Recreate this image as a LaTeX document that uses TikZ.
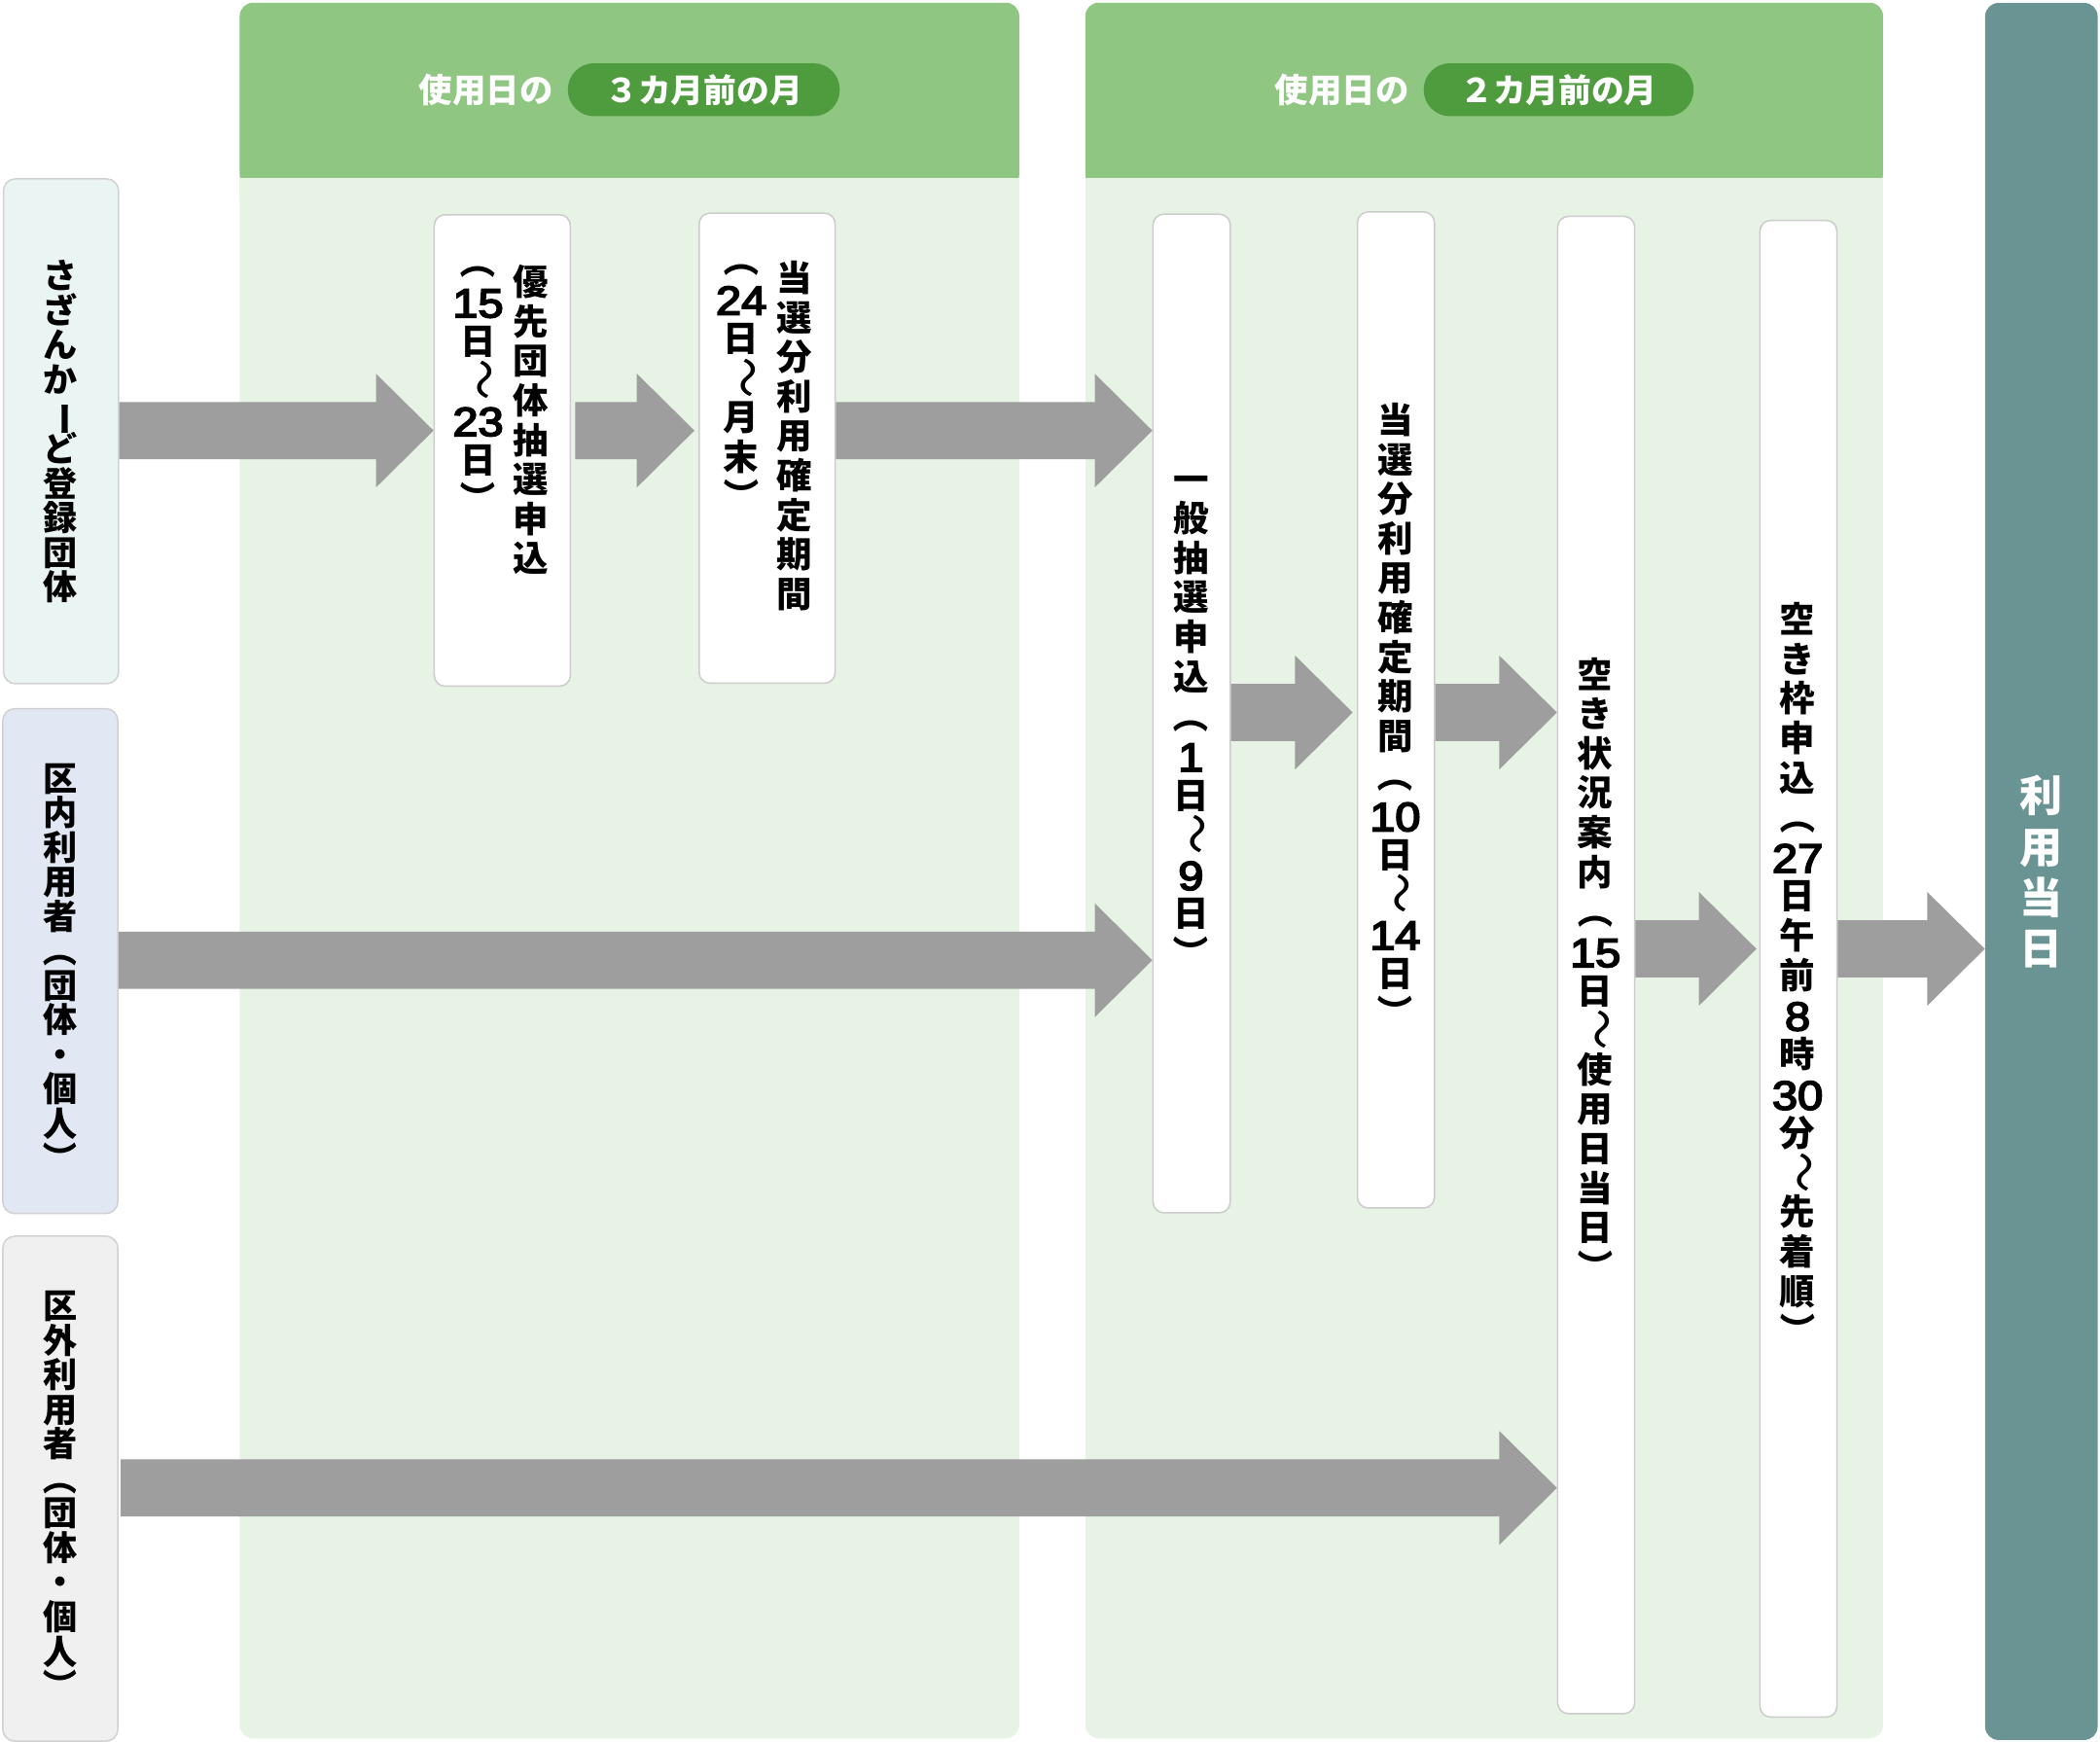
\documentclass[tikz,border=0pt]{standalone}
\usepackage{fontspec}
\setmainfont{Noto Sans CJK JP}
\newfontfamily\digf{Liberation Sans}[FakeBold=4]
\usetikzlibrary{calc}
\definecolor{hdr}{HTML}{8FC782}
\definecolor{body}{HTML}{E7F3E5}
\definecolor{pillc}{HTML}{4F9C3F}
\definecolor{lbA}{HTML}{EAF4F2}
\definecolor{lbB}{HTML}{E1E7F3}
\definecolor{lbC}{HTML}{F0F0F0}
\definecolor{barc}{HTML}{699493}
\definecolor{arrowc}{HTML}{9E9E9E}
\definecolor{bord}{HTML}{CCCCCC}
\newcommand\Cc[1]{\hbox to 0pt{\hss\vrule height .88em depth .12em width 0pt\relax #1\hss}}
\newcommand\Cr[1]{\Cc{\rotatebox[origin=c]{-90}{#1}}}
\newcommand\Cw{\Cc{\rotatebox[origin=c]{-90}{\scalebox{1.15}[1.5]{\mdseries ～}}}}
\newcommand\Cd[1]{\Cc{\raisebox{-2pt}{\scalebox{1.12}[1]{\digf\mdseries\fontsize{30.4}{30}\selectfont #1}}}}
\newcommand\vtext[2]{\vbox{\baselineskip=#1\relax\lineskiplimit=-1000pt\lineskip=0pt\relax #2}}
\newcommand\barrow[2]{\fill[arrowc] let \p1=(#1), \p2=(#2) in
  (\x1,\y1+21.3pt) -- (\x2-43pt,\y1+21.3pt) -- (\x2-43pt,\y1+42.5pt) -- (\x2,\y1)
  -- (\x2-43pt,\y1-42.5pt) -- (\x2-43pt,\y1-21.3pt) -- (\x1,\y1-21.3pt) -- cycle;}
\begin{document}
\begin{tikzpicture}[x=1pt,y=-1pt,
  wbox/.style={draw=bord, line width=1.1pt, fill=white, rounded corners=8pt, inner sep=0pt, anchor=north west},
  lbox/.style={draw=bord!90, line width=1.1pt, rounded corners=9pt, inner sep=0pt, anchor=north west, minimum width=86pt, minimum height=377pt},
  lab/.style={inner sep=0pt, anchor=north, font=\bfseries\fontsize{25.5}{25.8}\selectfont},
  vt/.style={inner sep=0pt, anchor=north, font=\bfseries\fontsize{26.5}{29.5}\selectfont},
  htext/.style={inner sep=0pt, text=white, font=\bfseries\fontsize{25}{30}\selectfont},
  pill/.style={fill=pillc, rounded corners=19.5pt, inner sep=0pt, text=white, minimum height=39.5pt, font=\bfseries\fontsize{24.5}{30}\selectfont}
]
\useasboundingbox (0,0) rectangle (1568,1300.7);
% panels
\fill[body, rounded corners=10pt] (179,2) rectangle (761,1298);
\fill[hdr, rounded corners=10pt] (179,2) rectangle (761,140);
\fill[body] (179,132.7) rectangle (761,150);
\fill[body, rounded corners=10pt] (810.4,2) rectangle (1406,1298);
\fill[hdr, rounded corners=10pt] (810.4,2) rectangle (1406,140);
\fill[body] (810.4,132.7) rectangle (1406,150);
% headers
\node[htext] (h1) at (363,67) {使用日の};
\node[pill, minimum width=203pt] (p1) at (525.5,67) {３カ月前の月};
\node[htext] (h2) at (1002,67) {使用日の};
\node[pill, minimum width=201.5pt] (p2) at (1163.8,67) {２カ月前の月};
% left boxes
\node[lbox, fill=lbA] (l1) at (2,133) {};
\node[lbox, fill=lbB] (l2) at (1.5,528.6) {};
\node[lbox, fill=lbC] (l3) at (1.5,922.5) {};
\node[lab] (lt1) at (45,193) {\vtext{25.8pt}{\Cc{さ}\Cc{ざ}\Cc{ん}\Cc{か}\Cr{ー}\Cc{ど}\Cc{登}\Cc{録}\Cc{団}\Cc{体}}};
\node[lab] (lt2) at (45,568) {\vtext{25.8pt}{\Cc{区}\Cc{内}\Cc{利}\Cc{用}\Cc{者}\Cr{（}\Cc{団}\Cc{体}\Cc{・}\Cc{個}\Cc{人}\Cr{）}}};
\node[lab] (lt3) at (45,962) {\vtext{25.8pt}{\Cc{区}\Cc{外}\Cc{利}\Cc{用}\Cc{者}\Cr{（}\Cc{団}\Cc{体}\Cc{・}\Cc{個}\Cc{人}\Cr{）}}};
% right bar
\node[fill=barc, rounded corners=10pt, inner sep=0pt, anchor=north west, minimum width=84pt, minimum height=1297pt] (bar) at (1482,2) {};
\node[inner sep=0pt, anchor=north, text=white, font=\bfseries\fontsize{32}{38}\selectfont] (bart) at (1524,578) {\vtext{38pt}{\Cc{利}\Cc{用}\Cc{当}\Cc{日}}};
% white boxes
\node[wbox, minimum width=101.6pt, minimum height=352pt] (b1) at (323.7,159.8) {};
\node[wbox, minimum width=101.5pt, minimum height=351pt] (b2) at (521.5,158.6) {};
\node[wbox, minimum width=57.6pt, minimum height=745.6pt] (b3) at (860.4,159.4) {};
\node[wbox, minimum width=57.5pt, minimum height=743.7pt] (b4) at (1013,157.7) {};
\node[wbox, minimum width=57.5pt, minimum height=1118pt] (b5) at (1162.5,161) {};
\node[wbox, minimum width=57.5pt, minimum height=1117.6pt] (b6) at (1313.5,164) {};
% box texts
\node[vt] (b1r) at (396,197) {\vtext{29.5pt}{\Cc{優}\Cc{先}\Cc{団}\Cc{体}\Cc{抽}\Cc{選}\Cc{申}\Cc{込}}};
\node[vt] (b1l) at (357,182) {\vtext{29.5pt}{\Cr{（}\Cd{15}\Cc{日}\Cw\Cd{23}\Cc{日}\Cr{）}}};
\node[vt] (b2r) at (593,194) {\vtext{29.5pt}{\Cc{当}\Cc{選}\Cc{分}\Cc{利}\Cc{用}\Cc{確}\Cc{定}\Cc{期}\Cc{間}}};
\node[vt] (b2l) at (553.5,180) {\vtext{29.5pt}{\Cr{（}\Cd{24}\Cc{日}\Cw\Cc{月}\Cc{末}\Cr{）}}};
\node[vt] (b3t) at (889.2,344) {\vtext{29.5pt}{\Cc{一}\Cc{般}\Cc{抽}\Cc{選}\Cc{申}\Cc{込}\Cr{（}\Cd{1}\Cc{日}\Cw\Cd{9}\Cc{日}\Cr{）}}};
\node[vt] (b4t) at (1041.7,300) {\vtext{29.5pt}{\Cc{当}\Cc{選}\Cc{分}\Cc{利}\Cc{用}\Cc{確}\Cc{定}\Cc{期}\Cc{間}\Cr{（}\Cd{10}\Cc{日}\Cw\Cd{14}\Cc{日}\Cr{）}}};
\node[vt] (b5t) at (1191.2,490) {\vtext{29.5pt}{\Cc{空}\Cc{き}\Cc{状}\Cc{況}\Cc{案}\Cc{内}\Cr{（}\Cd{15}\Cc{日}\Cw\Cc{使}\Cc{用}\Cc{日}\Cc{当}\Cc{日}\Cr{）}}};
\node[vt] (b6t) at (1342.2,449) {\vtext{29.5pt}{\Cc{空}\Cc{き}\Cc{枠}\Cc{申}\Cc{込}\Cr{（}\Cd{27}\Cc{日}\Cc{午}\Cc{前}\Cd{8}\Cc{時}\Cd{30}\Cc{分}\Cw\Cc{先}\Cc{着}\Cc{順}\Cr{）}}};
% arrow rows
\coordinate (r1) at (0,321.5);
\coordinate (r2) at (0,717);
\coordinate (r3) at (0,1111);
\coordinate (r4) at (0,532);
\coordinate (r5) at (0,708.5);
\barrow{l1.east|-r1}{b1.west|-r1}
\barrow{$(b1.east|-r1)+(3,0)$}{$(b2.west|-r1)+(-3,0)$}
\barrow{b2.east|-r1}{b3.west|-r1}
\barrow{l2.east|-r2}{b3.west|-r2}
\barrow{b3.east|-r4}{$(b4.west|-r4)+(-3,0)$}
\barrow{b4.east|-r4}{b5.west|-r4}
\barrow{b5.east|-r5}{$(b6.west|-r5)+(-2,0)$}
\barrow{b6.east|-r5}{bar.west|-r5}
\barrow{$(l3.east|-r3)+(1.5,0)$}{b5.west|-r3}
\end{tikzpicture}
\end{document}
